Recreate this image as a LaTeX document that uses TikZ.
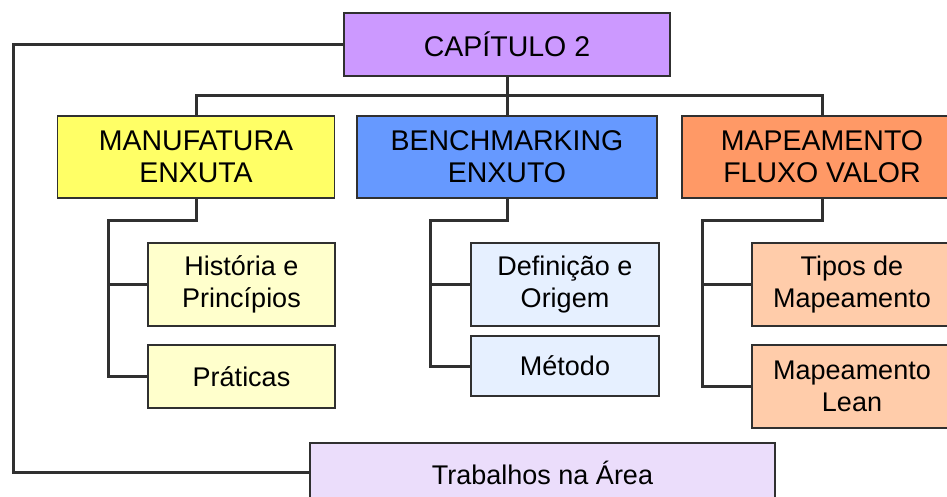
\documentclass[tikz,border=0pt]{standalone}
\usepackage{fontspec}
\setmainfont{Liberation Sans}
\usepackage{tikz}
\usetikzlibrary{positioning}
\usetikzlibrary{calc}

\definecolor{capcol}{HTML}{CC99FF}
\definecolor{manucol}{HTML}{FFFF66}
\definecolor{benchcol}{HTML}{6699FF}
\definecolor{mapacol}{HTML}{FF9966}
\definecolor{histcol}{HTML}{FFFFCC}
\definecolor{deficol}{HTML}{E6F0FF}
\definecolor{tiposcol}{HTML}{FFCCAA}
\definecolor{trabcol}{HTML}{EBDDFB}
\definecolor{edgecol}{HTML}{303030}

\tikzset{
  box/.style={draw=edgecol,line width=1.5pt,align=center,inner sep=0pt,
    font=\fontsize{27}{32}\selectfont},
  headbox/.style={box,font=\fontsize{28.5}{32}\selectfont},
  link/.style={draw=edgecol,line width=3pt},
  bus/.style={draw=edgecol,line width=3pt}
}

\begin{document}
\begin{tikzpicture}[x=1pt,y=-1pt]
        \useasboundingbox (0,0) rectangle (947,497);
        \begin{scope}[every node/.style={box}]
        \node[headbox,fill=capcol,minimum width=326pt,minimum height=63pt] (cap) at (507,44.5) {CAP\'ITULO 2};
        \node[headbox,fill=manucol,minimum width=277pt,minimum height=82pt] (manu) at (196,157) {MANUFATURA\\ENXUTA};
        \node[headbox,fill=benchcol,minimum width=300pt,minimum height=82pt] (bench) at (507,157) {BENCHMARKING\\ENXUTO};
        \node[headbox,fill=mapacol,minimum width=280pt,minimum height=82pt] (mapa) at (822,157) {MAPEAMENTO\\FLUXO VALOR};
        \node[fill=histcol,minimum width=187pt,minimum height=83pt] (hist) at (241.5,284.5) {Hist\'oria e\\Princ\'ipios};
        \node[fill=histcol,minimum width=187pt,minimum height=63pt] (prat) at (241.5,376.5) {Pr\'aticas};
        \node[fill=deficol,minimum width=188pt,minimum height=83pt] (defi) at (565,284.5) {Defini\c{c}\~ao e\\Origem};
        \node[fill=deficol,minimum width=188pt,minimum height=60pt] (meto) at (565,366) {M\'etodo};
        \node[fill=tiposcol,minimum width=200pt,minimum height=83pt] (tipos) at (852,284.5) {Tipos de\\Mapeamento};
        \node[fill=tiposcol,minimum width=200pt,minimum height=83pt] (lean) at (852,386.5) {Mapeamento\\Lean};
        \node[fill=trabcol,minimum width=465pt,minimum height=59pt] (trab) at (542.5,472.5) {Trabalhos na \'Area};
        \end{scope}
        \coordinate (bus) at (507,96);
        \coordinate (manuknee) at (108,220);
        \coordinate (benchknee) at (430,220);
        \coordinate (mapaknee) at (702,220);
        \coordinate (left) at (13,0);
        \begin{scope}[every path/.style={bus}]
        \path (cap.south) -- (bench.north);
        \path (manu.north) |- (bus) -| (mapa.north);
        \end{scope}
        \begin{scope}[every path/.style={link}]
        \path (manu.south) |- (manuknee) |- (prat.west);
        \path (manuknee) |- (hist.west);
        \path (bench.south) |- (benchknee) |- (meto.west);
        \path (benchknee) |- (defi.west);
        \path (mapa.south) |- (mapaknee) |- (lean.west);
        \path (mapaknee) |- (tipos.west);
        \path (cap.west) -| (left |- trab.west) -- (trab.west);
        \end{scope}
        \end{tikzpicture}
\end{document}
